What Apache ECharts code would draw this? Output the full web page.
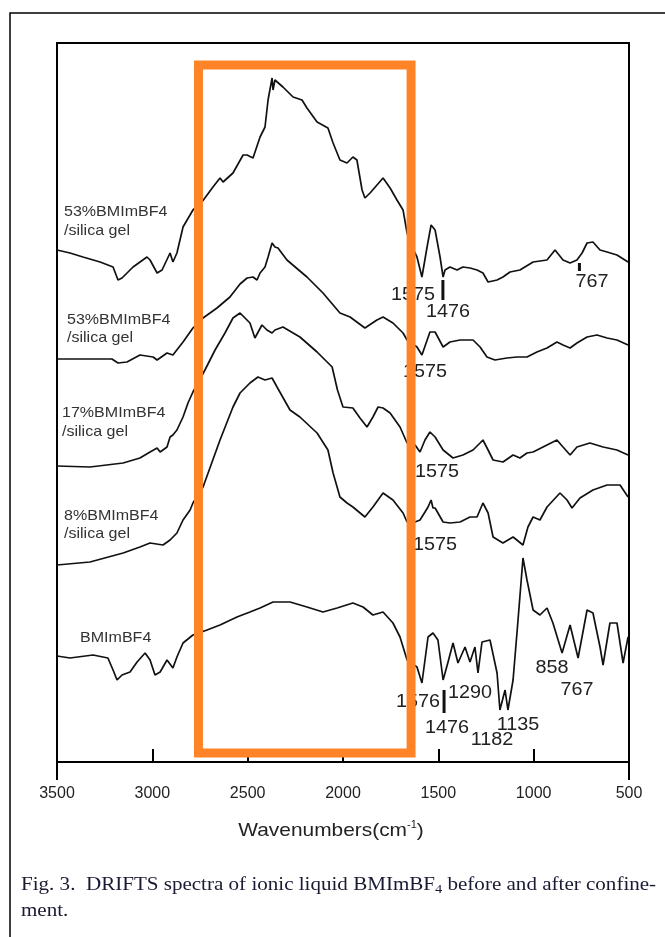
<!DOCTYPE html>
<html>
<head>
<meta charset="utf-8">
<script src="https://cdn.jsdelivr.net/npm/echarts@6/dist/echarts.min.js"></script>
<style>
html,body{margin:0;padding:0;background:#fff;}
#chart{width:665px;height:937px;}
</style>
</head>
<body>
<div id="chart"></div>
<script>
// ---- Data (wavenumber in cm-1, intensity in arbitrary units) ----
const xTicks = [3500, 3000, 2500, 2000, 1500, 1000, 500];
const xEnds = [3500, 500];

// 53%BMImBF4 / silica gel (top)
const wn1 = [3500,3432,3364,3274,3206,3180,3159,3101,3028,3012,2975,2949,2907,2892,2871,2839,2787,2740,2682,2645,2629,2577,2524,2503,2472,2435,2409,2393,2372,2367,2357,2315,2262,2215,2189,2136,2079,2052,2016,1979,1948,1927,1900,1885,1858,1790,1753,1717,1685,1664,1643,1612,1586,1559,1538,1517,1491,1475,1465,1439,1402,1371,1334,1297,1266,1239,1192,1161,1124,1072,1003,930,888,846,809,773,746,720,689,652,615,563,505];
const ab1 = [512,509,505,500,495,482,484,495,505,502,489,492,509,500,509,535,552,560,575,584,580,589,607,607,604,625,635,662,684,672,682,675,665,662,654,640,634,619,602,599,605,602,572,564,569,584,574,562,552,529,517,505,485,515,537,532,505,485,492,495,492,495,494,492,489,480,482,485,490,492,500,502,512,502,499,502,509,519,520,512,510,507,500];

// 53%BMImBF4 / silica gel (second)
const wn2 = [3500,3379,3212,3180,3133,3065,2996,2975,2923,2892,2839,2787,2734,2661,2593,2540,2503,2472,2451,2435,2409,2393,2372,2357,2341,2294,2189,2105,2016,1963,1885,1822,1790,1738,1685,1664,1612,1586,1544,1517,1475,1439,1386,1318,1281,1245,1203,1140,1087,1035,983,930,878,846,809,773,720,668,615,563,505];
const ab2 = [403,403,403,399,400,407,405,402,409,407,420,434,444,454,465,478,484,485,482,489,495,505,519,515,514,502,485,469,449,445,434,442,445,439,429,422,415,407,430,430,415,420,422,422,415,405,402,404,405,405,410,414,420,417,414,419,425,427,424,422,417];

// 17%BMImBF4 / silica gel
const wn3 = [3500,3327,3153,3065,3012,2975,2959,2923,2907,2892,2871,2839,2813,2787,2724,2671,2619,2577,2540,2488,2462,2425,2399,2372,2357,2315,2226,2136,2057,2029,2000,1948,1911,1874,1843,1816,1790,1753,1701,1664,1622,1596,1570,1544,1517,1475,1423,1371,1318,1281,1266,1239,1213,1161,1108,1072,1035,1003,951,878,846,809,773,705,636,563,505];
const ab3 = [296,295,299,304,310,314,310,315,325,327,332,345,359,370,392,412,429,444,449,439,424,437,432,429,432,435,425,410,395,372,355,354,344,335,345,355,354,349,335,319,317,310,322,330,325,312,304,307,312,319,322,312,302,300,307,304,309,310,315,322,315,307,315,319,315,312,307];

// 8%BMImBF4 / silica gel
const wn4 = [3500,3327,3153,3065,3012,2944,2907,2871,2839,2802,2787,2734,2645,2577,2540,2488,2446,2409,2372,2346,2278,2226,2136,2079,2052,2016,1979,1948,1885,1843,1790,1738,1685,1664,1622,1596,1570,1554,1538,1528,1517,1475,1439,1386,1334,1297,1266,1239,1213,1161,1108,1056,1030,1003,967,930,862,825,799,757,689,615,547,505];
const ab4 = [197,200,209,215,219,217,222,229,242,252,259,275,322,355,369,379,385,382,384,375,352,345,329,312,289,265,259,255,245,255,269,262,249,240,240,242,250,255,262,254,254,240,239,240,245,245,259,249,225,219,225,217,235,245,242,255,269,262,254,264,272,277,277,265];

// BMImBF4
const wn5 = [3500,3432,3311,3233,3206,3185,3159,3117,3080,3038,3012,2986,2959,2923,2892,2871,2839,2787,2713,2645,2556,2488,2435,2367,2278,2189,2105,2031,1948,1895,1843,1790,1738,1701,1664,1612,1586,1554,1528,1502,1475,1449,1423,1397,1360,1334,1308,1292,1271,1229,1192,1177,1150,1135,1108,1082,1056,1035,1003,967,930,899,851,809,767,720,689,652,636,600,563,531,505];
const ab5 = [106,104,107,104,92,82,87,90,100,109,102,87,90,102,94,105,119,127,132,137,145,150,154,160,160,155,150,154,159,155,147,150,139,125,102,95,79,125,129,122,82,100,119,99,115,100,115,89,120,122,89,52,72,52,82,142,204,182,152,147,154,139,109,137,104,152,149,115,97,139,139,99,125];

// Highlight box (x from, y from, x to, y to) in data units
const highlightBox = [[2758, 697, 1643, 9]];
// Small vertical marker bars [wavenumber, y start, y end]
const markerBars = [[1476, 482, 462], [760, 499, 491], [1470, 72, 49]];

// Texts
const curveNames = [
  ['53%BMImBF4', '/silica gel'],
  ['53%BMImBF4', '/silica gel'],
  ['17%BMImBF4', '/silica gel'],
  ['8%BMImBF4', '/silica gel'],
  ['BMImBF4']
];
const peakTexts = ['1575','1476','767','1575','1575','1575','1576','1290','1476','1182','1135','858','767'];

function zip(a, b) { return a.map((v, i) => [v, b[i]]); }

const chart = echarts.init(document.getElementById('chart'), null, {renderer: 'canvas'});

const lineStyle = {color: '#111', width: 1.7};
const spectra = [[wn1, ab1], [wn2, ab2], [wn3, ab3], [wn4, ab4], [wn5, ab5]];
const series = spectra.map(s => ({
  type: 'line',
  data: zip(s[0], s[1]),
  showSymbol: false,
  symbol: 'none',
  lineStyle: lineStyle,
  animation: false,
  silent: true,
  z: 3
}));

series.push({
  type: 'custom',
  data: markerBars,
  z: 4,
  silent: true,
  animation: false,
  renderItem: function (params, api) {
    const a = api.coord([api.value(0), api.value(1)]);
    const b = api.coord([api.value(0), api.value(2)]);
    return {type: 'line', shape: {x1: a[0], y1: a[1], x2: b[0], y2: b[1]}, style: {stroke: '#111', lineWidth: 3}};
  }
});

series.push({
  type: 'custom',
  data: highlightBox,
  z: 50,
  silent: true,
  animation: false,
  renderItem: function (params, api) {
    const p1 = api.coord([api.value(0), api.value(1)]);
    const p2 = api.coord([api.value(2), api.value(3)]);
    return {
      type: 'rect',
      shape: {x: Math.min(p1[0], p2[0]), y: Math.min(p1[1], p2[1]), width: Math.abs(p2[0] - p1[0]), height: Math.abs(p2[1] - p1[1])},
      style: {fill: 'none', stroke: '#ff8427', lineWidth: 9}
    };
  }
});

const sansFont = 'Liberation Sans, Arial, sans-serif';
const labelStyle = {fontFamily: sansFont, fontSize: 15, fill: '#333'};
const namePos = [[64, 212, 231], [67, 320, 338], [62, 413, 432], [64, 516, 534], [80, 638, 0]];
const graphics = [];
// outer frame
graphics.push({type: 'rect', shape: {x: 10, y: 13, width: 700, height: 1000}, style: {fill: 'none', stroke: '#000', lineWidth: 1.5}, z: 1, silent: true});
curveNames.forEach((lines, i) => {
  const p = namePos[i];
  graphics.push({type: 'text', x: p[0], y: p[1], scaleX: 1.07, style: Object.assign({text: lines[0], align: 'left', verticalAlign: 'middle'}, labelStyle), z: 1, silent: true});
  if (lines[1]) {
    graphics.push({type: 'text', x: p[0], y: p[2], scaleX: 1.07, style: Object.assign({text: lines[1], align: 'left', verticalAlign: 'middle'}, labelStyle), z: 1, silent: true});
  }
});
const peakPos = [[413,295],[448,312],[592,282],[425,372],[437,472],[435,545],[418,702],[470,693],[447,728],[492,740],[518,725],[552,668],[577,690]];
peakTexts.forEach((t, i) => {
  graphics.push({type: 'text', x: peakPos[i][0], y: peakPos[i][1], scaleX: 1.1, style: {text: t, align: 'center', verticalAlign: 'middle', fontFamily: sansFont, fontSize: 18, fill: '#222'}, z: 1, silent: true});
});
// axis title
graphics.push({type: 'text', x: 331, y: 831, scaleX: 1.1, style: {
  text: '{a|Wavenumbers(cm}{s|-1}{a|)}', align: 'center', verticalAlign: 'middle',
  rich: {a: {fontFamily: sansFont, fontSize: 19, fill: '#222', lineHeight: 22}, s: {fontFamily: sansFont, fontSize: 10, fill: '#222', verticalAlign: 'top', lineHeight: 22}}
}, z: 1, silent: true});
// caption
const serif = 'Liberation Serif, Times New Roman, serif';
graphics.push({type: 'text', x: 21, y: 885, scaleX: 1.108, style: {
  text: '{a|Fig. 3.  DRIFTS spectra of ionic liquid BMImBF}{s|4}{a| before and after confine-}', align: 'left', verticalAlign: 'middle',
  rich: {a: {fontFamily: serif, fontSize: 19, fill: '#1a1a33', lineHeight: 22}, s: {fontFamily: serif, fontSize: 13, fill: '#1a1a33', verticalAlign: 'bottom', lineHeight: 22}}
}, z: 1, silent: true});
graphics.push({type: 'text', x: 21, y: 911, scaleX: 1.108, style: {text: 'ment.', align: 'left', verticalAlign: 'middle', fontFamily: serif, fontSize: 19, fill: '#1a1a33'}, z: 1, silent: true});

const option = {
  backgroundColor: '#fff',
  animation: false,
  grid: {left: 57, right: 36, top: 43, bottom: 175, show: true, borderColor: '#000', borderWidth: 2, backgroundColor: 'transparent'},
  xAxis: {
    type: 'value', min: 500, max: 3500, interval: 500, inverse: true, position: 'bottom',
    axisLine: {show: true, lineStyle: {color: '#000', width: 2}},
    axisTick: {show: true, inside: true, length: 13, lineStyle: {color: '#000', width: 2}},
    axisLabel: {show: true, margin: 24, fontSize: 16, color: '#222', fontFamily: sansFont,
      formatter: function (v) { return String(v); }},
    splitLine: {show: false}
  },
  yAxis: {type: 'value', min: 0, max: 719, show: false, splitLine: {show: false}},
  series: series,
  graphic: {elements: graphics}
};
chart.setOption(option);

// frame extensions below the axis at both ends (positions from the axis scale)
const extra = xEnds.map((v, i) => {
  const p = chart.convertToPixel({xAxisIndex: 0, yAxisIndex: 0}, [v, 0]);
  return {type: 'line', id: 'end' + i, shape: {x1: p[0], y1: p[1], x2: p[0], y2: p[1] + 18}, style: {stroke: '#000', lineWidth: 2}, z: 5, silent: true};
});
chart.setOption({graphic: {elements: graphics.concat(extra)}});
</script>
</body>
</html>
